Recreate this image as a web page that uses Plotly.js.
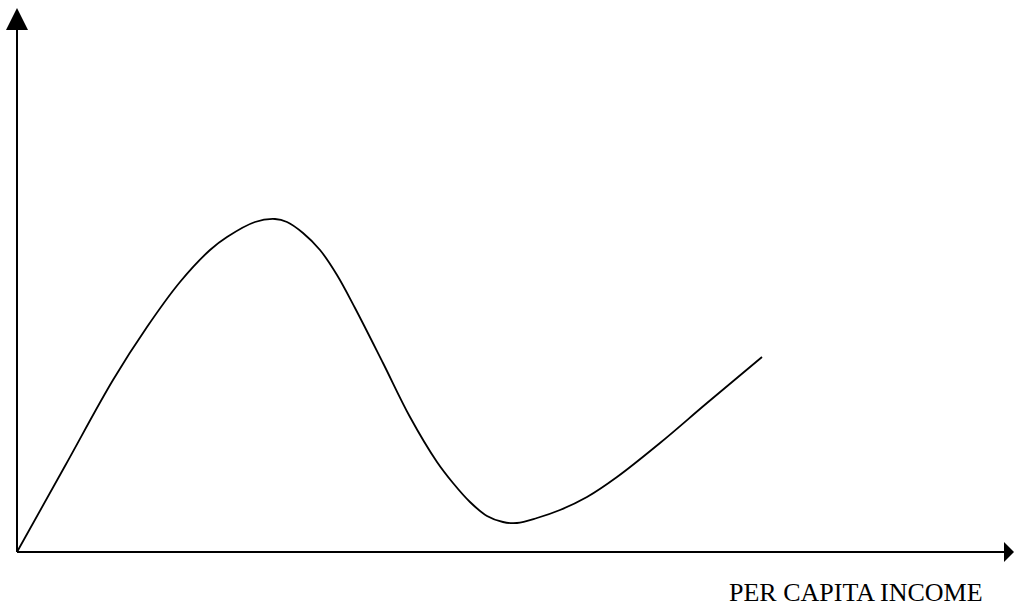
<!DOCTYPE html>
<html>
<head>
<meta charset="utf-8">
<script src="https://cdn.plot.ly/plotly-3.0.1.min.js"></script>
<style>
html,body{margin:0;padding:0;background:#fff;}
#chart{width:1014px;height:608px;}
</style>
</head>
<body>
<div id="chart"></div>
<script>
// Per capita income (x) vs. indicator (y)
const incomeValues = [0, 48, 96, 130, 163, 193, 210, 238, 258, 270, 286, 303, 320, 338, 366, 393, 420, 436, 453, 470, 486, 500, 520, 543, 570, 600, 643, 690, 745];
const indicatorValues = [0, 86, 172, 225, 270, 302, 315, 330, 333, 330, 319, 302, 277, 244, 189, 135, 90, 69, 50, 36, 30, 29, 34, 42, 55, 75, 109, 149, 195];
const xAxisLabel = "PER CAPITA INCOME";

const trace = {
  x: incomeValues,
  y: indicatorValues,
  mode: 'lines',
  type: 'scatter',
  line: {color: '#000', width: 1.8, shape: 'spline', smoothing: 1},
  hoverinfo: 'skip'
};

const layout = {
  width: 1014,
  height: 608,
  margin: {l: 0, r: 0, t: 0, b: 0, pad: 0},
  paper_bgcolor: '#fff',
  plot_bgcolor: '#fff',
  showlegend: false,
  xaxis: {range: [-17, 997], showgrid: false, zeroline: false, showticklabels: false, showline: false, ticks: '', fixedrange: true},
  yaxis: {range: [-56, 552], showgrid: false, zeroline: false, showticklabels: false, showline: false, ticks: '', fixedrange: true},
  shapes: [
    {type: 'line', xref: 'x', yref: 'y', x0: 0, y0: 0, x1: 0, y1: 524, line: {color: '#000', width: 2}},
    {type: 'line', xref: 'x', yref: 'y', x0: 0, y0: 0, x1: 988, y1: 0, line: {color: '#000', width: 2}},
    {type: 'path', xref: 'x', yref: 'y', path: 'M -11,522 L 0,544 L 11,522 Z', fillcolor: '#000', line: {color: '#000', width: 0}},
    {type: 'path', xref: 'x', yref: 'y', path: 'M 987,10 L 997,0 L 987,-10 Z', fillcolor: '#000', line: {color: '#000', width: 0}}
  ],
  annotations: [
    {text: xAxisLabel, xref: 'x', yref: 'y', x: 839, y: -40, xanchor: 'center', yanchor: 'middle', showarrow: false,
     font: {family: 'Liberation Serif, Times New Roman, serif', size: 26, color: '#000'}}
  ]
};

Plotly.newPlot('chart', [trace], layout, {displayModeBar: false, staticPlot: true});
</script>
</body>
</html>
